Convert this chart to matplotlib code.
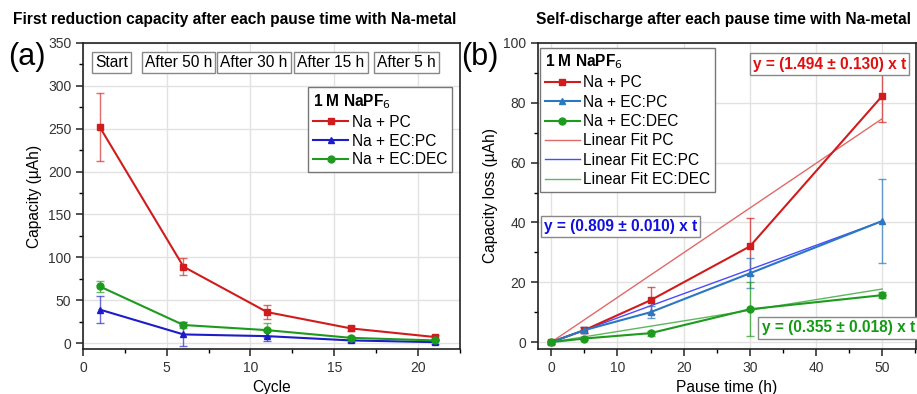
import matplotlib
matplotlib.use("Agg")
import matplotlib.pyplot as plt
from matplotlib.ticker import MultipleLocator
from matplotlib.lines import Line2D
from matplotlib.colors import to_rgba

plt.rcParams['font.family'] = ['Liberation Sans', 'DejaVu Sans']

# ---- Panel (a) data ----
cycles = [1, 6, 11, 16, 21]
cap_pc = [252, 89, 36, 17, 7]
cap_pc_err = [39.5, 10, 8, 2.5, 2]
cap_ecpc = [39, 10, 8, 3, 1]
cap_ecpc_err = [15.5, 14, 6, 2, 2]
cap_ecdec = [66, 21, 15, 6, 3]
cap_ecdec_err = [6, 4, 8, 2, 1]
phase_labels = ["Start", "After 50 h", "After 30 h", "After 15 h", "After 5 h"]
phase_x = [1.7, 5.7, 10.2, 14.8, 19.3]

# ---- Panel (b) data ----
pause = [0, 5, 15, 30, 50]
loss_pc = [0, 4, 14, 32, 82.3]
loss_pc_err = [0.5, 1, 4.5, 9.5, 8.7]
loss_ecpc = [0, 4, 10, 23, 40.5]
loss_ecpc_err = [0.5, 1, 2, 5, 14]
loss_ecdec = [0, 1.2, 3, 11, 15.7]
loss_ecdec_err = [0.3, 0.5, 0.8, 9, 1]
fit_t = [0, 50]
slope_pc, slope_pc_err = 1.494, 0.130
slope_ecpc, slope_ecpc_err = 0.809, 0.010
slope_ecdec, slope_ecdec_err = 0.355, 0.018

RED = '#d01c1c'
BLUE = '#1c1cc8'
GREEN = '#1e9a1e'
STEEL = '#2a78c2'
FIT_RED = '#e06a6a'
FIT_BLUE = '#4a4aff'
FIT_GREEN = '#5cb85c'

FS = 11.2

fig = plt.figure(figsize=(9.17, 3.94), dpi=100)
axA = fig.add_axes([0.0905, 0.1142, 0.411, 0.7767])
axB = fig.add_axes([0.5867, 0.1142, 0.4122, 0.7767])

def style(ax):
    for s in ax.spines.values():
        s.set_linewidth(1.2)
        s.set_color('#222222')
    ax.tick_params(which='major', direction='out', length=5, width=1.1,
                   labelsize=10, colors='#222222', labelcolor='#333333',
                   top=False, right=False)
    ax.tick_params(which='minor', direction='out', length=3, width=1.0,
                   top=False, right=False)
    ax.grid(True, which='major', color='#e2e2e2', linewidth=1.0)
    ax.set_axisbelow(True)

ms = 5
def legend(ax, handles, spacing, **kw):
    leg = ax.legend(handles=handles, fontsize=FS,
                    title='1 M NaPF$_6$', title_fontproperties={'weight': 'bold', 'size': FS},
                    frameon=True, fancybox=False, edgecolor='#777777', handlelength=2.3,
                    borderpad=0.3, labelspacing=spacing, handletextpad=0.2,
                    borderaxespad=0, framealpha=1, **kw)
    leg._legend_box.align = 'left'
    leg.get_frame().set_linewidth(1.0)
    return leg

# Panel (a)
hA = []
for y, e, c, m, lab in [(cap_pc, cap_pc_err, RED, 's', 'Na + PC'),
                        (cap_ecpc, cap_ecpc_err, BLUE, '^', 'Na + EC:PC'),
                        (cap_ecdec, cap_ecdec_err, GREEN, 'o', 'Na + EC:DEC')]:
    axA.errorbar(cycles, y, yerr=e, color=c, marker=m, ms=ms, lw=1.5,
                 capsize=3, elinewidth=1.0, ecolor=to_rgba(c, 0.65))
    hA.append(Line2D([], [], color=c, marker=m, ms=ms, lw=1.5, label=lab))
axA.set_xlim(0, 22.5)
axA.set_ylim(-7, 350)
axA.xaxis.set_major_locator(MultipleLocator(5))
axA.xaxis.set_minor_locator(MultipleLocator(2.5))
axA.yaxis.set_major_locator(MultipleLocator(50))
axA.yaxis.set_minor_locator(MultipleLocator(25))
style(axA)
axA.set_xlabel('Cycle', fontsize=FS)
axA.set_ylabel('Capacity (\u00b5Ah)', fontsize=FS)
axA.set_title('First reduction capacity after each pause time with Na-metal',
              fontsize=11.2, fontweight='bold', x=0.403, y=1.035)
for lbl, xp in zip(phase_labels, phase_x):
    axA.text(xp, 327, lbl, ha='center', va='center', fontsize=FS,
             bbox=dict(boxstyle='square,pad=0.2', fc='white', ec='#888888', lw=1.0))
legend(axA, hA, 0.25, loc='upper left', bbox_to_anchor=(0.597, 0.855))
fig.text(0.009, 0.835, '(a)', fontsize=22)

# Panel (b)
hB = []
for y, e, c, m, lab in [(loss_pc, loss_pc_err, RED, 's', 'Na + PC'),
                        (loss_ecpc, loss_ecpc_err, STEEL, '^', 'Na + EC:PC'),
                        (loss_ecdec, loss_ecdec_err, GREEN, 'o', 'Na + EC:DEC')]:
    axB.errorbar(pause, y, yerr=e, color=c, marker=m, ms=ms, lw=1.5,
                 capsize=3, elinewidth=1.0, ecolor=to_rgba(c, 0.7))
    hB.append(Line2D([], [], color=c, marker=m, ms=ms, lw=1.5, label=lab))
for s, c, lab in [(slope_pc, FIT_RED, 'Linear Fit PC'),
                  (slope_ecpc, FIT_BLUE, 'Linear Fit EC:PC'),
                  (slope_ecdec, FIT_GREEN, 'Linear Fit EC:DEC')]:
    ln, = axB.plot(fit_t, [s * t for t in fit_t], color=c, lw=1.0, label=lab)
    hB.append(ln)
axB.set_xlim(-2, 55.1)
axB.set_ylim(-2.3, 100)
axB.xaxis.set_major_locator(MultipleLocator(10))
axB.xaxis.set_minor_locator(MultipleLocator(5))
axB.yaxis.set_major_locator(MultipleLocator(20))
axB.yaxis.set_minor_locator(MultipleLocator(10))
style(axB)
axB.set_xlabel('Pause time (h)', fontsize=FS)
axB.set_ylabel('Capacity loss (\u00b5Ah)', fontsize=FS)
axB.set_title('Self-discharge after each pause time with Na-metal',
              fontsize=11.2, fontweight='bold', x=0.492, y=1.035)
legend(axB, hB, 0.28, loc='upper left', bbox_to_anchor=(0.005, 0.985))
fig.text(0.503, 0.835, '(b)', fontsize=22)

bb = dict(boxstyle='square,pad=0.2', fc='white', ec='#888888', lw=1.0)
axB.text(0.974, 0.931, f'y = ({slope_pc:.3f} \u00b1 {slope_pc_err:.3f}) x t', transform=axB.transAxes,
         ha='right', va='center', color='#e01010', fontsize=FS, fontweight='bold', bbox=bb)
axB.text(0.016, 0.40, f'y = ({slope_ecpc:.3f} \u00b1 {slope_ecpc_err:.3f}) x t', transform=axB.transAxes,
         ha='left', va='center', color='#1010e0', fontsize=FS, fontweight='bold', bbox=bb)
axB.text(0.997, 0.069, f'y = ({slope_ecdec:.3f} \u00b1 {slope_ecdec_err:.3f}) x t', transform=axB.transAxes,
         ha='right', va='center', color='#149a14', fontsize=FS, fontweight='bold', bbox=bb)

fig.savefig('out.png', dpi=100)
